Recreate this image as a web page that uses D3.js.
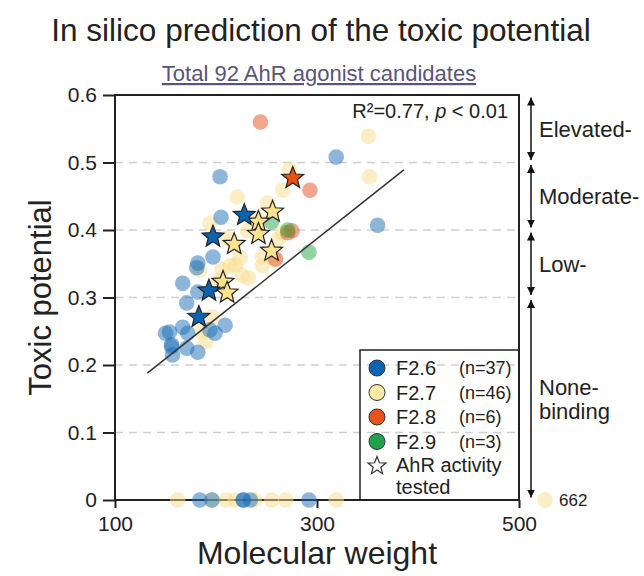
<!DOCTYPE html>
<html>
<head>
<meta charset="utf-8">
<script src="https://cdn.jsdelivr.net/npm/d3@7"></script>
<style>
    body { margin: 0; background: #fff; }
    text { font-family: "Liberation Sans", Arial, sans-serif; fill: #222; }
</style>
</head>
<body>
<div id="chartDiv"></div>
<script>
/* * * * * * * * * * * * * *
*           DATA           *
* * * * * * * * * * * * * */

// [molecular weight, toxic potential]
const f26Points = [
    [204, 0.479], [319, 0.508], [360, 0.407], [205, 0.419], [197, 0.360], [182, 0.351],
    [167, 0.321], [181, 0.344], [171, 0.292], [154, 0.249], [167, 0.256], [209, 0.259],
    [199, 0.247], [156, 0.227], [171, 0.225], [182, 0.219], [157, 0.215], [182, 0.308],
    [194, 0.252], [172, 0.247], [156, 0.230], [150, 0.247],
    [184, 0], [196, 0], [227, 0], [227, 0], [234, 0], [292, 0]
];
const f27Points = [
    [351, 0.539], [352, 0.479], [273, 0.490], [266, 0.459], [221, 0.449], [251, 0.440],
    [194, 0.410], [231, 0.399], [242, 0.415], [266, 0.396], [262, 0.387], [211, 0.388],
    [246, 0.360], [224, 0.359], [246, 0.347], [214, 0.347], [226, 0.333], [201, 0.324],
    [196, 0.271], [186, 0.249], [190, 0.234], [184, 0.341], [206, 0.341], [232, 0.329],
    [258, 0.356], [219, 0.348],
    [162, 0], [196, 0], [210, 0], [219, 0], [238, 0], [255, 0], [269, 0], [319, 0]
];
const f28Points = [[244, 0.560], [293, 0.459], [275, 0.399], [259, 0.357], [271, 0.396]];
const f29Points = [[292, 0.367], [271, 0.400], [255, 0.412]];

// compounds with tested AhR activity
const f26Tested = [[197, 0.390], [228, 0.422], [193, 0.310], [183, 0.271]];
const f27Tested = [[256, 0.427], [242, 0.412], [242, 0.394], [218, 0.379], [255, 0.369], [207, 0.323], [211, 0.307]];
const f28Tested = [[276, 0.477]];

// off-scale compound (MW 662, toxic potential 0)
const outlier = [662, 0];

// regression line end points
const fitLine = [[132, 0.188], [386, 0.489]];

const seriesNames = ['F2.6', 'F2.7', 'F2.8', 'F2.9'];
const seriesCounts = ['(n=37)', '(n=46)', '(n=6)', '(n=3)'];
const seriesColors = ['#1b6db5', '#f9dd8a', '#e64d17', '#27a546'];
const legendColors = ['#0d64b2', '#fde9a3', '#e7531b', '#1fa24a'];
const starColors = ['#0f62ad', '#fde38e', '#e9510e'];

const yTicks = [0, 0.1, 0.2, 0.3, 0.4, 0.5, 0.6];
const xTicks = [100, 300, 500];
const tierLabels = [['Elevated-'], ['Moderate-'], ['Low-'], ['None-', 'binding']];
const tierBounds = [0.6, 0.5, 0.4, 0.3, 0];

/* * * * * * * * * * * * * *
*           DRAW           *
* * * * * * * * * * * * * */

const width = 644, height = 576;
const svg = d3.select('#chartDiv').append('svg')
    .attr('width', width)
    .attr('height', height);

const x = d3.scaleLinear().domain([100, 500]).range([115, 519]);
const y = d3.scaleLinear().domain([0, 0.6]).range([500, 95]);

// titles
svg.append('text')
    .attr('x', 321).attr('y', 41)
    .attr('text-anchor', 'middle')
    .style('font-size', '31.5px')
    .text('In silico prediction of the toxic potential');
svg.append('text')
    .attr('x', 319).attr('y', 81)
    .attr('text-anchor', 'middle')
    .style('font-size', '22px')
    .style('fill', '#5a5478')
    .style('text-decoration', 'underline')
    .text('Total 92 AhR agonist candidates');

// gridlines
svg.append('g').selectAll('line')
    .data(yTicks.filter(d => d > 0 && d < 0.6))
    .join('line')
    .attr('x1', x(100)).attr('x2', x(500))
    .attr('y1', d => y(d)).attr('y2', d => y(d))
    .style('stroke', '#cfcfcf')
    .style('stroke-width', 1.5)
    .style('stroke-dasharray', '8,6');

// axes
const yAxis = svg.append('g')
    .attr('transform', `translate(${x(100)},0)`)
    .call(d3.axisLeft(y).tickValues(yTicks).tickSize(12).tickPadding(6)
        .tickFormat(d => d === 0 ? '0' : d3.format('.1f')(d)));
const xAxis = svg.append('g')
    .attr('transform', `translate(0,${y(0)})`)
    .call(d3.axisBottom(x).tickValues(xTicks).tickSize(8).tickPadding(8));
[yAxis, xAxis].forEach(g => {
    g.select('.domain').remove();
    g.selectAll('line').style('stroke', '#222').style('stroke-width', 2);
    g.selectAll('text').style('font-size', '21px').style('fill', '#222').style('font-family', '"Liberation Sans", Arial, sans-serif');
});

// frame
svg.append('rect')
    .attr('x', x(100)).attr('y', y(0.6))
    .attr('width', x(500) - x(100)).attr('height', y(0) - y(0.6))
    .style('fill', 'none')
    .style('stroke', '#222')
    .style('stroke-width', 2);

// axis labels
svg.append('text')
    .attr('x', x(300)).attr('y', 564)
    .attr('text-anchor', 'middle')
    .style('font-size', '32px')
    .text('Molecular weight');
svg.append('text')
    .attr('transform', `translate(51,${y(0.3)}) rotate(-90)`)
    .attr('text-anchor', 'middle')
    .style('font-size', '31px')
    .text('Toxic potential');

// scatter points
const pointSets = [f27Points, f26Points, f28Points, f29Points];
const pointColors = [seriesColors[1], seriesColors[0], seriesColors[2], seriesColors[3]];
pointSets.forEach((pts, i) => {
    svg.append('g').selectAll('circle')
        .data(pts)
        .join('circle')
        .attr('cx', d => x(d[0]))
        .attr('cy', d => y(d[1]))
        .attr('r', 7.8)
        .style('fill', pointColors[i])
        .style('opacity', 0.5);
});

// off-scale point beyond the axis
svg.append('circle')
    .attr('cx', x(500) + 26).attr('cy', y(outlier[1]))
    .attr('r', 7.8)
    .style('fill', seriesColors[1])
    .style('opacity', 0.5);
svg.append('text')
    .attr('x', x(500) + 40).attr('y', y(outlier[1]) + 6)
    .style('font-size', '17px')
    .text(outlier[0]);

// regression line
svg.append('line')
    .attr('x1', x(fitLine[0][0])).attr('y1', y(fitLine[0][1]))
    .attr('x2', x(fitLine[1][0])).attr('y2', y(fitLine[1][1]))
    .style('stroke', '#333')
    .style('stroke-width', 1.5);

svg.append('text')
    .attr('x', 508).attr('y', 118)
    .attr('text-anchor', 'end')
    .style('font-size', '20px')
    .html('R²=0.77, <tspan font-style="italic">p</tspan> &lt; 0.01');

// star markers
const starPath = (R, r) => {
    const pts = d3.range(10).map(i => {
        const a = -Math.PI / 2 + i * Math.PI / 5;
        const rad = i % 2 ? r : R;
        return [rad * Math.cos(a), rad * Math.sin(a)];
    });
    return d3.line()(pts) + 'Z';
};
[f27Tested, f26Tested, f28Tested].forEach((pts, i) => {
    const color = [starColors[1], starColors[0], starColors[2]][i];
    svg.append('g').selectAll('path')
        .data(pts)
        .join('path')
        .attr('transform', d => `translate(${x(d[0])},${y(d[1])})`)
        .attr('d', starPath(11.5, 5))
        .style('fill', color)
        .style('stroke', '#222')
        .style('stroke-width', 1.2);
});

// legend
const legend = svg.append('g');
legend.append('rect')
    .attr('x', 360).attr('y', 350)
    .attr('width', x(500) - 360).attr('height', y(0) - 350)
    .style('fill', 'none')
    .style('stroke', '#222')
    .style('stroke-width', 1.5);
seriesNames.forEach((name, i) => {
    const cy = 368 + i * 24.5;
    legend.append('circle')
        .attr('cx', 377).attr('cy', cy).attr('r', 8)
        .style('fill', legendColors[i])
        .style('stroke', '#333')
        .style('stroke-width', 1);
    legend.append('text')
        .attr('x', 396).attr('y', cy + 7)
        .style('font-size', '20px')
        .text(name);
    legend.append('text')
        .attr('x', 459).attr('y', cy + 6)
        .style('font-size', '18px')
        .text(seriesCounts[i]);
});
legend.append('path')
    .attr('transform', 'translate(377,466)')
    .attr('d', starPath(9.5, 4))
    .style('fill', '#fff')
    .style('stroke', '#333')
    .style('stroke-width', 1.2);
legend.append('text')
    .attr('x', 396).attr('y', 472)
    .style('font-size', '20px')
    .text('AhR activity');
legend.append('text')
    .attr('x', 396).attr('y', 494)
    .style('font-size', '20px')
    .text('tested');

// tier arrows on the right
const defs = svg.append('defs');
['arrowEnd', 'arrowStart'].forEach(id => {
    defs.append('marker')
        .attr('id', id)
        .attr('viewBox', '0 0 10 10')
        .attr('refX', id === 'arrowEnd' ? 10 : 0).attr('refY', 5)
        .attr('markerWidth', 8).attr('markerHeight', 10)
        .attr('markerUnits', 'userSpaceOnUse')
        .attr('orient', 'auto')
        .append('path')
        .attr('d', id === 'arrowEnd' ? 'M0,0L10,5L0,10Z' : 'M10,0L0,5L10,10Z')
        .style('fill', '#111');
});
const tiers = svg.append('g');
tierLabels.forEach((lines, i) => {
    const top = y(tierBounds[i]) + 2.5, bottom = y(tierBounds[i + 1]) - 2.5;
    tiers.append('line')
        .attr('x1', 531).attr('x2', 531)
        .attr('y1', top).attr('y2', bottom)
        .attr('marker-start', 'url(#arrowStart)')
        .attr('marker-end', 'url(#arrowEnd)')
        .style('stroke', '#111')
        .style('stroke-width', 1.5);
    const mid = (top + bottom) / 2;
    lines.forEach((t, j) => {
        tiers.append('text')
            .attr('x', 539)
            .attr('y', mid + 8 + (j - (lines.length - 1) / 2) * 24)
            .style('font-size', '22px')
            .text(t);
    });
});
</script>
</body>
</html>
